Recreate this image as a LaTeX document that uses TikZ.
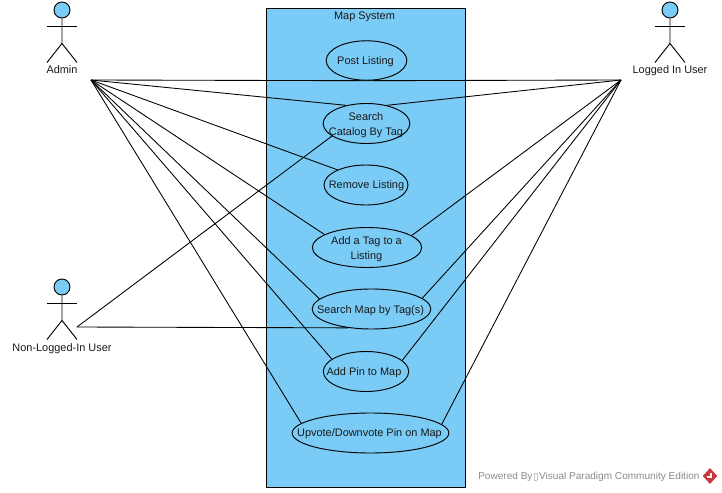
\documentclass[tikz,border=0pt]{standalone}
\usepackage{fontspec}
\setmainfont{Liberation Sans}
\usetikzlibrary{shapes.geometric,calc}
\definecolor{sysblue}{HTML}{7ACBF5}
\definecolor{wmgray}{HTML}{8A8A8A}
\definecolor{logored}{HTML}{C8373C}
\tikzset{
  lbl/.style={font=\fontsize{8.2}{11.25}\selectfont, text=black!90, align=center, inner sep=0pt},
  uc/.style={ellipse, draw=black, line width=.7pt, inner sep=0pt},
  head/.style={circle, draw=black, fill=sysblue, line width=.7pt, minimum size=12pt, inner sep=0pt},
  limb/.style={draw=black, line width=.7pt},
  link/.style={draw=black, line width=.65pt}
}
\newcommand{\actorfig}[3]{% name, x, head y
  \node[head] (#1) at (#2,#3) {};
  \draw[limb] (#1.south) -- ++(0,25) coordinate (#1hip) -- ++(-15,19) coordinate (#1lf);
  \draw[limb] (#1hip) -- ++(15,19) coordinate (#1rf);
  \draw[limb] ($(#1.south)+(-15,8)$) -- ++(30,0);
}
\begin{document}
\begin{tikzpicture}[x=.75pt,y=-.75pt]
\useasboundingbox (0,0) rectangle (722,493);
\node[draw=black, fill=sysblue, line width=.75pt, minimum width=149.25pt, minimum height=359.5pt, inner sep=0pt] (sys) at (366,248.25) {};
\node[lbl] (systitle) at (364.5,16.5) {Map System};

\node[uc, minimum width=60.5pt, minimum height=29.6pt] (post) at (366.5,60.5) {};
\node[uc, minimum width=65pt, minimum height=30pt] (search) at (366.5,123.5) {};
\node[uc, minimum width=63pt, minimum height=30pt] (remove) at (366,185) {};
\node[uc, minimum width=82pt, minimum height=30pt] (addtag) at (367,247.5) {};
\node[uc, minimum width=89pt, minimum height=30pt] (searchmap) at (371.5,309) {};
\node[uc, minimum width=64pt, minimum height=30pt] (addpin) at (366,371.5) {};
\node[uc, minimum width=117.5pt, minimum height=30pt] (upvote) at (370.5,433) {};

\actorfig{adminhead}{62}{10}
\actorfig{loggedhead}{670}{10}
\actorfig{nonhead}{62}{287}
\node[lbl] (adminlbl) at (62,70) {Admin};
\node[lbl] (loggedlbl) at (670,71) {Logged In User};
\node[lbl] (nonlbl) at (62,348.5) {Non-Logged-In User};

\coordinate (admin) at (91,80);
\coordinate (logged) at (621,80);
\coordinate (non) at (77,327);

\draw[link] (admin) -- (post.south);
\draw[link] (admin) -- (search.138.5);
\draw[link] (admin) -- (remove.152);
\draw[link] (admin) -- (addtag.163);
\draw[link] (admin) -- (searchmap.169);
\draw[link] (admin) -- (addpin.160);
\draw[link] (admin) -- (upvote.172.7);
\draw[link] (logged) -- (post.south);
\draw[link] (logged) -- (search.42);
\draw[link] (logged) -- (addtag.15.5);
\draw[link] (logged) -- (searchmap.12);
\draw[link] (logged) -- (addpin.17);
\draw[link] (logged) -- (upvote.7.2);
\draw[link] (non) -- (search.200.5);
\draw[link] (non) -- (searchmap.219);

\node[lbl] (posttxt) at (365.5,62) {Post Listing};
\node[lbl] (searchtxt) at (366,125) {Search\\Catalog By Tag};
\node[lbl] (removetxt) at (366.5,186) {Remove Listing};
\node[lbl] (addtagtxt) at (366.5,249) {Add a Tag to a\\Listing};
\node[lbl] (searchmaptxt) at (370.5,310.5) {Search Map by Tag(s)};
\node[lbl] (addpintxt) at (364,372.5) {Add Pin to Map};
\node[lbl] (upvotetxt) at (369.5,434) {Upvote/Downvote Pin on Map};

\node[font=\fontsize{7.55}{10}\selectfont, text=wmgray, inner sep=0pt, anchor=west] (wm) at (478,477) {Powered By\,{\fboxsep=0pt\fboxrule=.2pt\color{wmgray!50}\fbox{\rule{0pt}{5pt}\hspace{2pt}}}\,Visual Paradigm Community Edition};
\node[diamond, fill=logored, minimum width=11pt, minimum height=12pt, inner sep=0pt] (logo) at (710,476) {};
\draw[white, line width=.8pt] ($(logo.center)+(-3,1)$) -- ($(logo.center)+(1,1)$) -- ($(logo.center)+(1,-3)$);
\end{tikzpicture}
\end{document}
